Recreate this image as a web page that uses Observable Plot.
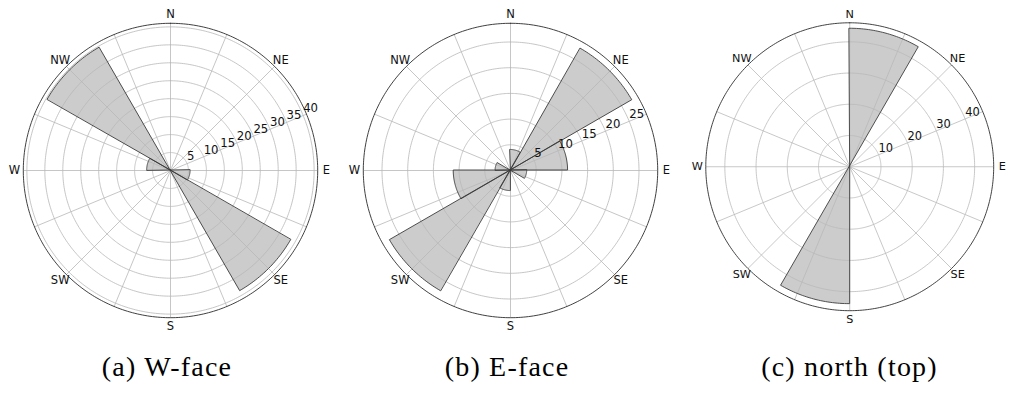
<!DOCTYPE html>
<html>
<head>
<meta charset="utf-8">
<script src="https://cdn.jsdelivr.net/npm/d3@7"></script>
<script src="https://cdn.jsdelivr.net/npm/@observablehq/plot@0.6"></script>
<style>
  html, body { margin: 0; padding: 0; background: #fff; }
  #root { position: relative; width: 1015px; height: 393px; overflow: hidden; }
  .panel { position: absolute; top: 0; }
  .cap { position: absolute; top: 350px; font-family: "Liberation Serif", "Times New Roman", serif; font-size: 28px; letter-spacing: 1.2px; white-space: nowrap; transform: translateX(-50%); line-height: 34px; color: #000; }
</style>
</head>
<body>
<div id="root"></div>
<script>
// 30° direction bins (start angles, clockwise from north)
const binStarts = [0, 30, 60, 90, 120, 150, 180, 210, 240, 270, 300, 330];
const binWidth = 30;
// frequencies per bin
const wFace = [0, 0, 0, 5.6, 38.8, 0, 0, 0, 0, 6.5, 39.5, 0];
const eFace = [4.0, 27.35, 11.2, 3.25, 0, 0, 4.0, 27.1, 11.05, 2.9, 0, 0];
const northTop = [44.2, 0, 0, 0, 0, 0, 44.0, 0, 0, 0, 0, 0];
// radial ticks and axis maxima
const ticksA = [5, 10, 15, 20, 25, 30, 35, 40];
const ticksB = [5, 10, 15, 20, 25];
const ticksC = [10, 20, 30, 40];
const rmaxA = 41.0, rmaxB = 28.64, rmaxC = 46.1;
// compass labels
const compass = ["N", "NE", "E", "SE", "S", "SW", "W", "NW"];
const compassAngles = [0, 45, 90, 135, 180, 225, 270, 315];
const spokeAngles = d3.range(0, 360, 22.5);
const captions = ["(a) W-face", "(b) E-face", "(c) north (top)"];

const rad = d => d * Math.PI / 180;
const px = (r, a) => r * Math.sin(rad(a));
const py = (r, a) => r * Math.cos(rad(a));

function panel(values, rmax, ticks) {
  const R = 147.2;
  const half = 170;
  const margin = half - R;
  const unit = rmax / R; // data units per pixel

  // bar outlines (arc points) built from the bin values
  const barPts = [];
  values.forEach((v, i) => {
    if (!v) return;
    const a0 = binStarts[i], a1 = a0 + binWidth;
    for (let a = a0; a <= a1 + 1e-9; a += 1) barPts.push({bin: i, x: px(v, a), y: py(v, a)});
  });

  const ringPts = [];
  ticks.forEach(t => { for (let a = 0; a <= 360; a += 1) ringPts.push({t, x: px(t, a), y: py(t, a)}); });
  const spinePts = d3.range(0, 361, 1).map(a => ({x: px(rmax, a), y: py(rmax, a)}));

  const labR = 156 * unit;

  return Plot.plot({
    width: 340,
    height: 340,
    margin,
    x: {domain: [-rmax, rmax], axis: null},
    y: {domain: [-rmax, rmax], axis: null},
    style: {fontFamily: "DejaVu Sans, sans-serif", background: "transparent", overflow: "visible"},
    marks: [
      Plot.area(barPts, {x1: "x", y1: "y", x2: () => 0, y2: () => 0, z: "bin", fill: "#cccccc"}),
      Plot.line(ringPts, {x: "x", y: "y", z: "t", stroke: "#b8b8b8", strokeWidth: 0.8}),
      Plot.link(spokeAngles, {x1: () => 0, y1: () => 0, x2: a => px(rmax, a), y2: a => py(rmax, a), stroke: "#b8b8b8", strokeWidth: 0.8}),
      Plot.area(barPts, {x1: "x", y1: "y", x2: () => 0, y2: () => 0, z: "bin", fill: "none", stroke: "#3a3a3a", strokeWidth: 0.9}),
      Plot.line(spinePts, {x: "x", y: "y", stroke: "#2a2a2a", strokeWidth: 0.9}),
      Plot.text(compass, {x: (d, i) => px(labR, compassAngles[i]), y: (d, i) => py(labR, compassAngles[i]), text: d => d, fontSize: 11.5, fill: "#111", textAnchor: "middle"}),
      Plot.text(ticks, {x: t => px(t, 67.5), y: t => py(t, 67.5), text: t => String(t), fontSize: 11.7, fill: "#111", textAnchor: "start", dx: 0, dy: -7})
    ]
  });
}

const root = document.getElementById("root");
const specs = [
  {values: wFace, rmax: rmaxA, ticks: ticksA, cx: 170},
  {values: eFace, rmax: rmaxB, ticks: ticksB, cx: 510},
  {values: northTop, rmax: rmaxC, ticks: ticksC, cx: 852.5}
];
specs.forEach((s, i) => {
  const div = document.createElement("div");
  div.className = "panel";
  div.style.left = (s.cx - 170) + "px";
  div.appendChild(panel(s.values, s.rmax, s.ticks));
  root.appendChild(div);
  const cap = document.createElement("div");
  cap.className = "cap";
  cap.style.left = (s.cx - 3) + "px";
  cap.textContent = captions[i];
  root.appendChild(cap);
});
</script>
</body>
</html>
